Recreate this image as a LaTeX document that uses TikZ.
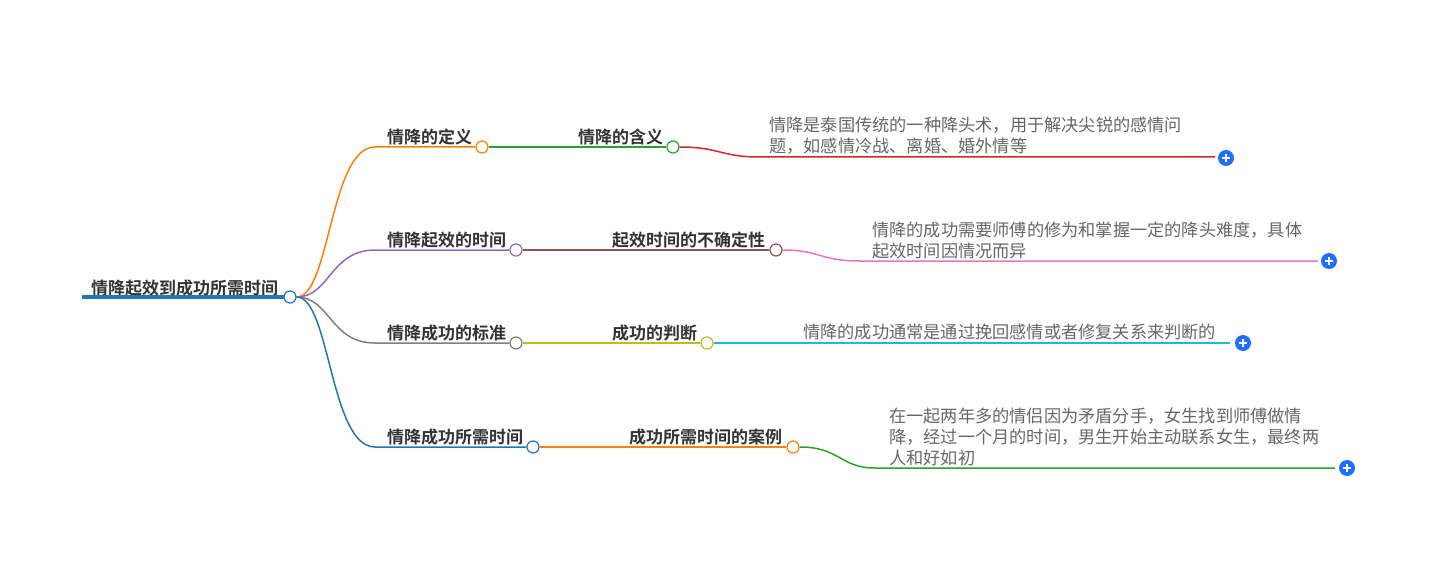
\documentclass[tikz,border=0pt]{standalone}
\usepackage{fontspec}
\setmainfont{Noto Sans CJK SC}[BoldFont={Noto Sans CJK SC Bold}]
\definecolor{cblue}{HTML}{1F77B4}
\definecolor{corange}{HTML}{FF7F0E}
\definecolor{cgreen}{HTML}{2CA02C}
\definecolor{cred}{HTML}{D62728}
\definecolor{cpurple}{HTML}{9467BD}
\definecolor{cbrown}{HTML}{8C564B}
\definecolor{cpink}{HTML}{E377C2}
\definecolor{cgray}{HTML}{7F7F7F}
\definecolor{colive}{HTML}{BCBD22}
\definecolor{ccyan}{HTML}{17BECF}
\definecolor{plusblue}{HTML}{1E6FFF}
\definecolor{txt}{HTML}{333333}
\definecolor{ltxt}{HTML}{666666}
\tikzset{
 x=1pt,y=-1pt,
 lbl/.style={font=\fontsize{17}{20}\selectfont\bfseries,text=txt,anchor=south west,inner sep=0pt},
 desc/.style={font=\fontsize{17.2}{21}\selectfont,text=ltxt,anchor=south west,inner sep=0pt,align=left},
 dot/.style={circle,draw=#1,fill=white,line width=1.2pt,minimum size=12pt,inner sep=0pt},
 br/.style={draw=#1,line width=1.5pt},
 plus/.style={circle,fill=plusblue,minimum size=16pt,inner sep=0pt,
   path picture={\draw[white,line width=1.5pt] ([xshift=-4pt]path picture bounding box.center)--([xshift=4pt]path picture bounding box.center);
   \draw[white,line width=1.5pt] ([yshift=-4pt]path picture bounding box.center)--([yshift=4pt]path picture bounding box.center);}}
}
\begin{document}
\begin{tikzpicture}
\useasboundingbox (0,0) rectangle (1451,575);
% root
\coordinate (rs) at (82,297);
\node[lbl] (root) at (91,296) {情降起效到成功所需时间};
\draw[cblue,line width=3.5pt] (rs) -- (285,297);
\node[dot=cblue] (r) at (290,297) {};
% branch 1
\coordinate (a0) at (375,147);
\node[dot=corange] (a) at (482,147) {};
\node[dot=cgreen] (a2) at (673,147) {};
\coordinate (a3) at (760,157);\coordinate (a4) at (1215,157);
\node[plus] (ap) at (1226,158) {};
\draw[br=corange] (r.east) .. controls (330,297) and (330,147) .. (a0) -- (a.west);
\draw[br=cgreen] (a.east) -- (a2.west);
\draw[br=cred] (a2.east) .. controls (720,147) and (720,157) .. (a3) -- (a4);
\node[lbl] at (387,145) {情降的定义};
\node[lbl] at (578,145) {情降的含义};
\node[desc] at (769,155) {情降是泰国传统的一种降头术，用于解决尖锐的感情问\\题，如感情冷战、离婚、婚外情等};
% branch 2
\coordinate (b0) at (375,250);
\node[dot=cpurple] (b) at (516,250) {};
\node[dot=cbrown] (b2) at (776,250) {};
\coordinate (b3) at (860,261);\coordinate (b4) at (1318,261);
\node[plus] (bp) at (1329,261) {};
\draw[br=cpurple] (r.east) .. controls (330,297) and (330,250) .. (b0) -- (b.west);
\draw[br=cbrown] (b.east) -- (b2.west);
\draw[br=cpink] (b2.east) .. controls (820,250) and (820,261) .. (b3) -- (b4);
\node[lbl] at (387,248) {情降起效的时间};
\node[lbl] at (612,248) {起效时间的不确定性};
\node[desc] at (872,259) {情降的成功需要师傅的修为和掌握一定的降头难度，具体\\起效时间因情况而异};
% branch 3
\coordinate (c0) at (375,343);
\node[dot=cgray] (c) at (516,343) {};
\node[dot=colive] (c2) at (707,343) {};
\coordinate (c4) at (1230,343);
\node[plus] (cp) at (1243,343) {};
\draw[br=cgray] (r.east) .. controls (330,297) and (330,343) .. (c0) -- (c.west);
\draw[br=colive] (c.east) -- (c2.west);
\draw[br=ccyan] (c2.east) -- (c4);
\node[lbl] at (387,341) {情降成功的标准};
\node[lbl] at (612,341) {成功的判断};
\node[desc] at (803,340) {情降的成功通常是通过挽回感情或者修复关系来判断的};
% branch 4
\coordinate (d0) at (375,447);
\node[dot=cblue] (d) at (533,447) {};
\node[dot=corange] (d2) at (793,447) {};
\coordinate (d3) at (875,468);\coordinate (d4) at (1335,468);
\node[plus] (dp) at (1347,468) {};
\draw[br=cblue] (r.east) .. controls (330,297) and (330,447) .. (d0) -- (d.west);
\draw[br=corange] (d.east) -- (d2.west);
\draw[br=cgreen] (d2.east) .. controls (840,447) and (840,468) .. (d3) -- (d4);
\node[lbl] at (387,445) {情降成功所需时间};
\node[lbl] at (629,445) {成功所需时间的案例};
\node[desc] at (889,466) {在一起两年多的情侣因为矛盾分手，女生找到师傅做情\\降，经过一个月的时间，男生开始主动联系女生，最终两\\人和好如初};
\end{tikzpicture}
\end{document}
